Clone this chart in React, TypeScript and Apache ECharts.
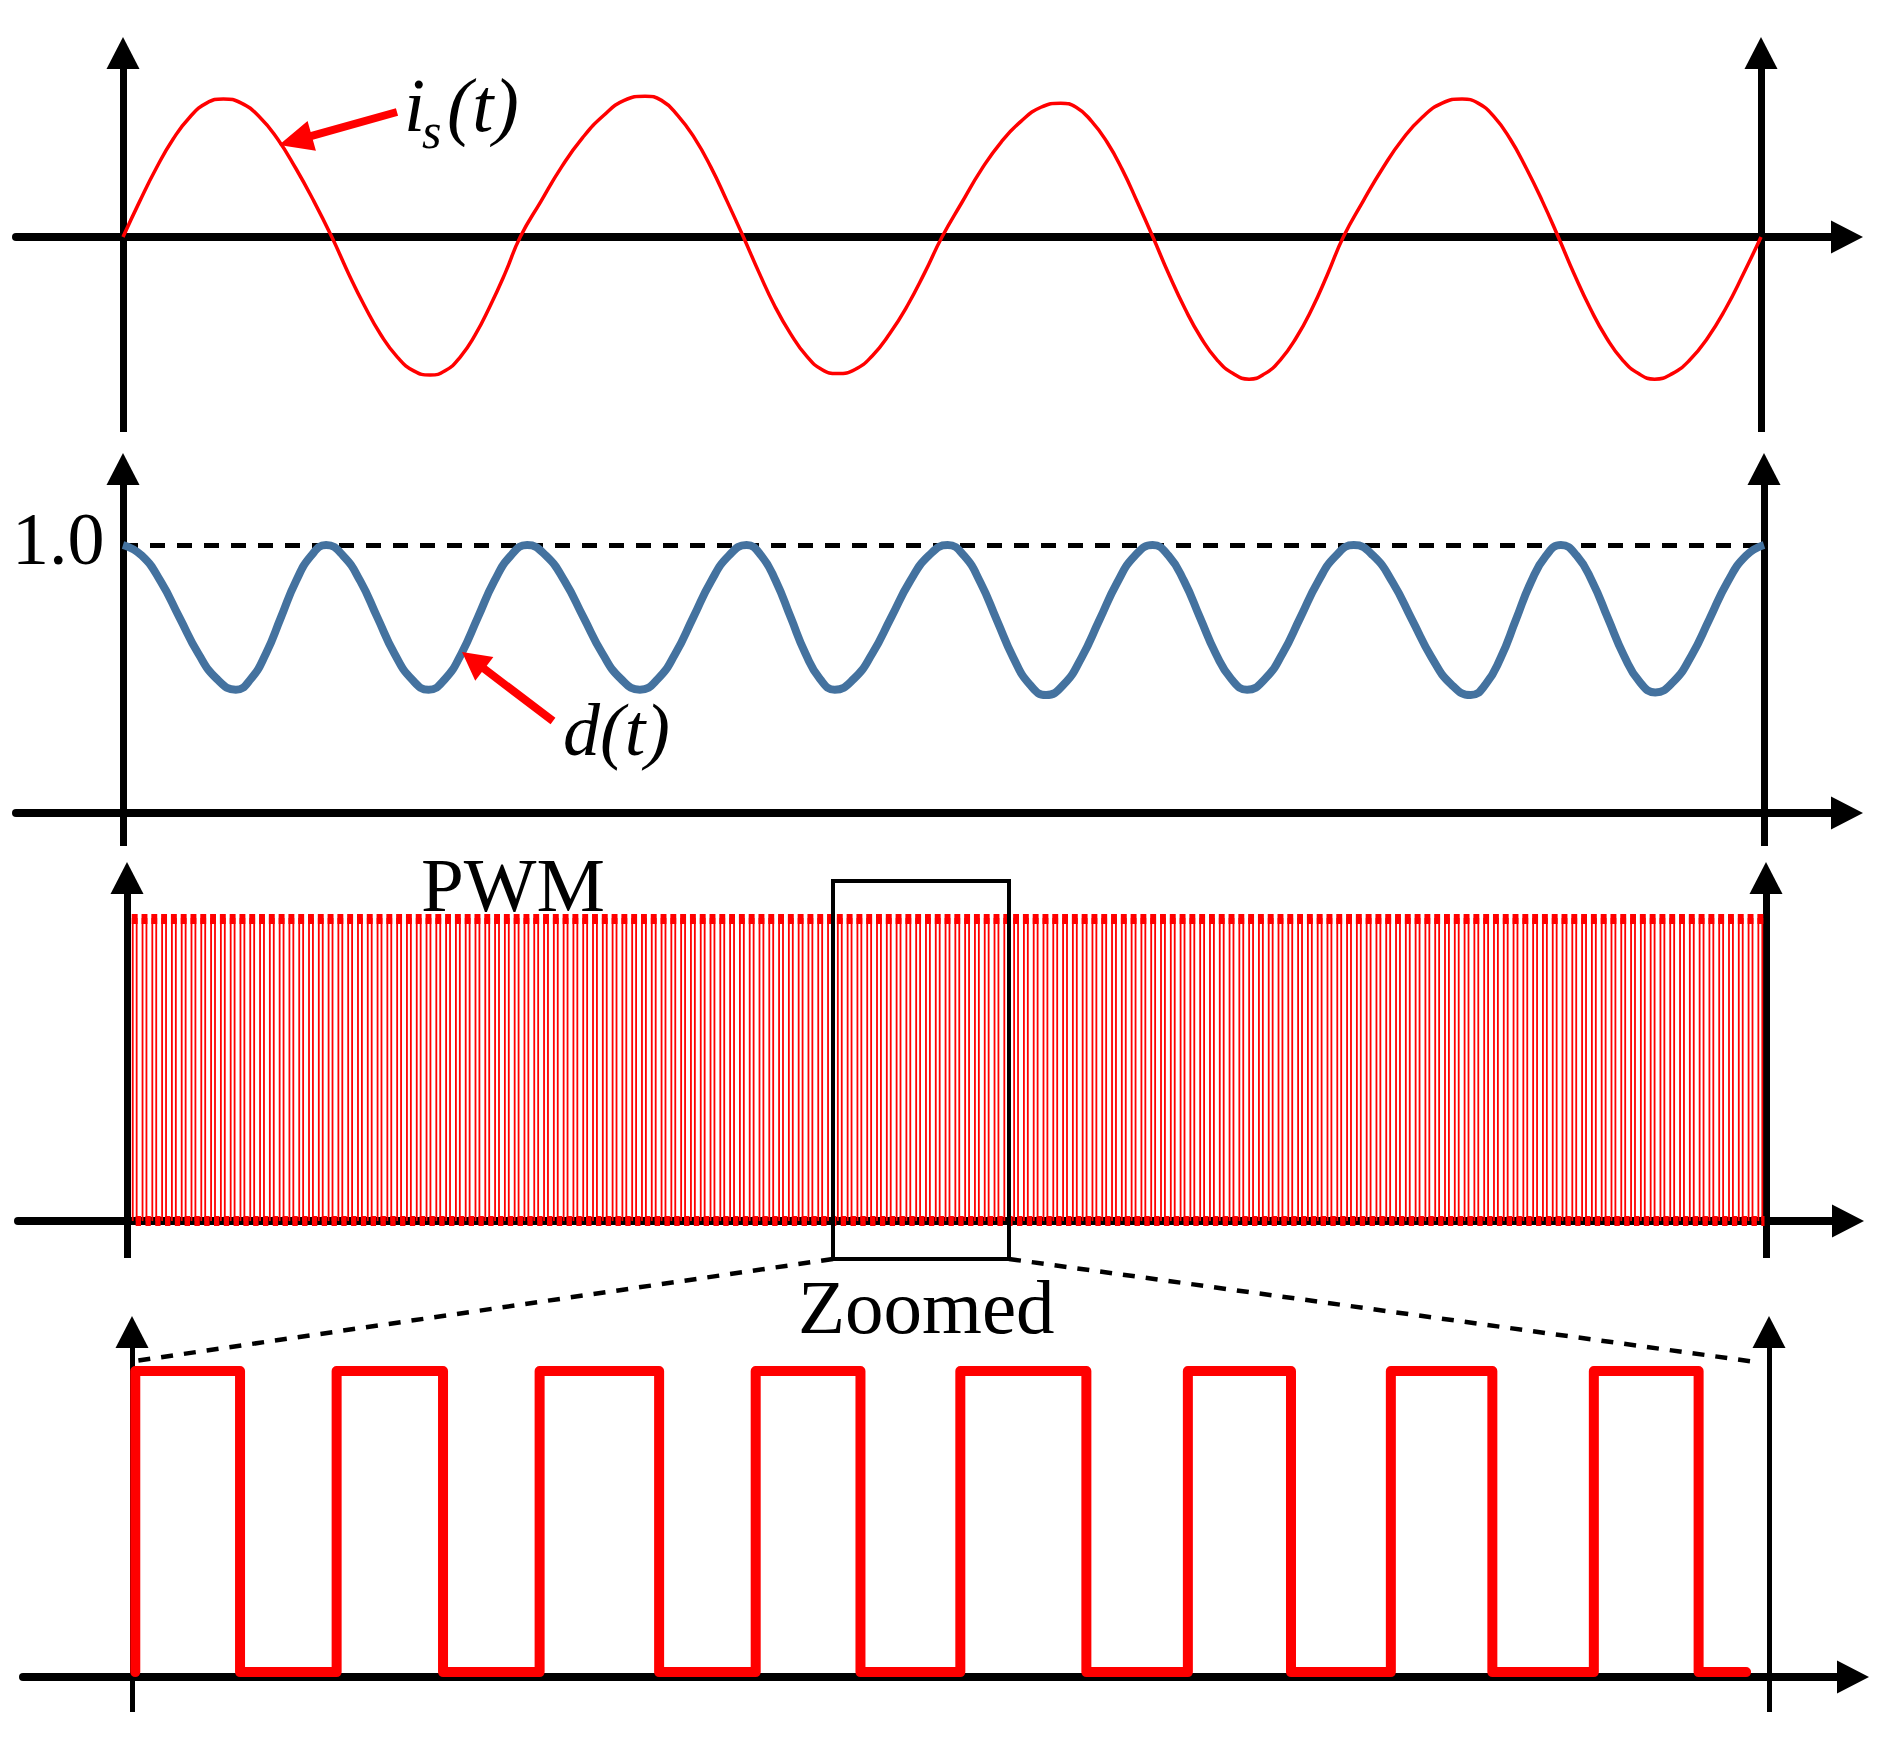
import React, { useEffect, useRef } from "react";
import * as echarts from "echarts";

// ---------------- data ----------------
// Panel 1: source current i_s(t); time in ms (0..80 = between the two vertical axes), value in p.u.
const isTime = [
  0, 0.82, 1.63, 2.45, 3.27, 4.08, 4.9, 5.78, 6.67, 7.55, 8.43, 9.32, 10.2,
  11.0, 11.8, 12.6, 13.4, 14.2, 15.0, 15.73, 16.47, 17.2, 17.93, 18.67, 19.4,
  20.42, 21.43, 22.45, 23.47, 24.48, 25.5, 26.3, 27.1, 27.9, 28.7, 29.5, 30.3,
  31.07, 31.83, 32.6, 33.37, 34.13, 34.9, 35.75, 36.6, 37.45, 38.3, 39.15, 40.0,
  40.97, 41.93, 42.9, 43.87, 44.83, 45.8, 46.55, 47.3, 48.05, 48.8, 49.55, 50.3,
  51.08, 51.87, 52.65, 53.43, 54.22, 55.0, 55.77, 56.53, 57.3, 58.07, 58.83, 59.6,
  60.57, 61.53, 62.5, 63.47, 64.43, 65.4, 66.18, 66.97, 67.75, 68.53, 69.32, 70.1,
  70.88, 71.67, 72.45, 73.23, 74.02, 74.8, 75.67, 76.53, 77.4, 78.27, 79.13, 80.0,
];
const isValue = [
  0, 0.26, 0.5, 0.71, 0.87, 0.97, 1.0, 0.97, 0.87, 0.71, 0.5, 0.26, 0,
  -0.26, -0.5, -0.71, -0.87, -0.97, -1.0, -0.97, -0.87, -0.71, -0.5, -0.26, 0,
  0.26, 0.51, 0.72, 0.88, 0.99, 1.02, 0.99, 0.88, 0.72, 0.51, 0.26, 0,
  -0.26, -0.5, -0.7, -0.86, -0.96, -0.99, -0.96, -0.86, -0.7, -0.5, -0.26, 0,
  0.25, 0.49, 0.69, 0.84, 0.94, 0.97, 0.94, 0.84, 0.69, 0.49, 0.25, 0,
  -0.27, -0.52, -0.73, -0.89, -0.99, -1.03, -0.99, -0.89, -0.73, -0.52, -0.27, 0,
  0.26, 0.5, 0.71, 0.87, 0.97, 1.0, 0.97, 0.87, 0.71, 0.5, 0.26, 0,
  -0.27, -0.52, -0.73, -0.89, -0.99, -1.03, -0.99, -0.89, -0.73, -0.52, -0.27, 0,
];

// Panel 2: duty ratio d(t)
const dTime = [
  0, 0.92, 1.83, 2.75, 3.67, 4.58, 5.5, 6.23, 6.97, 7.7, 8.43, 9.17, 9.9,
  10.73, 11.57, 12.4, 13.23, 14.07, 14.9, 15.7, 16.5, 17.3, 18.1, 18.9, 19.7,
  20.62, 21.53, 22.45, 23.37, 24.28, 25.2, 26.07, 26.93, 27.8, 28.67, 29.53, 30.4,
  31.12, 31.83, 32.55, 33.27, 33.98, 34.7, 35.62, 36.53, 37.45, 38.37, 39.28, 40.2,
  41.0, 41.8, 42.6, 43.4, 44.2, 45.0, 45.87, 46.73, 47.6, 48.47, 49.33, 50.2,
  50.97, 51.73, 52.5, 53.27, 54.03, 54.8, 55.67, 56.53, 57.4, 58.27, 59.13, 60.0,
  60.95, 61.9, 62.85, 63.8, 64.75, 65.7, 66.43, 67.17, 67.9, 68.63, 69.37, 70.1,
  70.87, 71.63, 72.4, 73.17, 73.93, 74.7, 75.58, 76.47, 77.35, 78.23, 79.12, 80.0,
];
const dValue = [
  1.0, 0.96, 0.865, 0.73, 0.595, 0.5, 0.46, 0.5, 0.595, 0.73, 0.865, 0.96, 1.0,
  0.96, 0.865, 0.73, 0.595, 0.5, 0.46, 0.5, 0.595, 0.73, 0.865, 0.96, 1.0,
  0.96, 0.865, 0.73, 0.595, 0.5, 0.46, 0.5, 0.595, 0.73, 0.865, 0.96, 1.0,
  0.96, 0.865, 0.73, 0.595, 0.5, 0.46, 0.5, 0.595, 0.73, 0.865, 0.96, 1.0,
  0.96, 0.86, 0.72, 0.58, 0.48, 0.44, 0.48, 0.58, 0.72, 0.86, 0.96, 1.0,
  0.96, 0.865, 0.73, 0.595, 0.5, 0.46, 0.5, 0.595, 0.73, 0.865, 0.96, 1.0,
  0.96, 0.86, 0.72, 0.58, 0.48, 0.44, 0.48, 0.58, 0.72, 0.86, 0.96, 1.0,
  0.96, 0.863, 0.725, 0.588, 0.49, 0.45, 0.49, 0.588, 0.725, 0.863, 0.96, 1.0,
];
const dReference = 1.0;
const dReferenceLabel = "1.0";

// Panel 3: PWM pulse train (≈167 pulses between the axes, read spacing ≈ 0.478 ms)
const pwmFirstRiseMs = 0.28;
const pwmPeriodMs = 0.478;
const pwmDuty = 0.4;
const pwmHigh = 1.0;

// Panel 4: zoomed PWM, horizontal unit 0..100 between the axes
const zoomRise = [0.2, 12.5, 24.9, 38.1, 50.6, 64.5, 76.9, 89.3];
const zoomFall = [6.6, 19.0, 32.2, 44.5, 58.3, 70.8, 83.1, 95.7];
const zoomEnd = 98.6;
const zoomHigh = 1.0;
const zoomLow = 0.016;

const T_END = 80;
const ZOOM_END = 100;

// ---------------- layout (pixels) ----------------
const W = 1888;
const H = 1744;
const ARROW_LEN = 32;
const ARROW_W = 33;
const RED = "#FF0000";
const BLUE = "#44729F";
const SERIF = "'Liberation Serif', 'Times New Roman', serif";

type Panel = {
  axisStartX: number; tipX: number; t0X: number; t1X: number; tMax: number;
  tipY: number; bottomY: number; zeroY: number; unitPx: number; vW: number; hW: number;
};
const panels: Panel[] = [
  { axisStartX: 16, tipX: 1863, t0X: 123, t1X: 1761, tMax: T_END, tipY: 37, bottomY: 432, zeroY: 237, unitPx: 138, vW: 7, hW: 8 },
  { axisStartX: 16, tipX: 1863, t0X: 123, t1X: 1764, tMax: T_END, tipY: 453, bottomY: 846, zeroY: 813, unitPx: 268, vW: 7, hW: 8 },
  { axisStartX: 18, tipX: 1864, t0X: 127, t1X: 1766, tMax: T_END, tipY: 862, bottomY: 1258, zeroY: 1221, unitPx: 302, vW: 7, hW: 8 },
  { axisStartX: 23, tipX: 1869, t0X: 132, t1X: 1769, tMax: ZOOM_END, tipY: 1316, bottomY: 1712, zeroY: 1677, unitPx: 306, vW: 5, hW: 8 },
];

function panelGeom(p: Panel) {
  const left = p.axisStartX;
  const rightEdge = p.tipX - ARROW_LEN / 2;
  const top = p.tipY + ARROW_LEN / 2;
  const ppu = (p.t1X - p.t0X) / p.tMax;
  return {
    grid: { left, top, width: rightEdge - left, height: p.bottomY - top },
    xMin: (left - p.t0X) / ppu,
    xMax: (rightEdge - p.t0X) / ppu,
    yMin: -(p.bottomY - p.zeroY) / p.unitPx,
    yMax: (p.zeroY - top) / p.unitPx,
  };
}

function arrowPoints(tail: number[], tip: number[], headLen: number, headW: number, shaftW: number) {
  const dx = tip[0] - tail[0];
  const dy = tip[1] - tail[1];
  const L = Math.hypot(dx, dy);
  const ux = dx / L, uy = dy / L;
  const nx = -uy, ny = ux;
  const bx = tip[0] - ux * headLen, by = tip[1] - uy * headLen;
  return [
    [tail[0] + (nx * shaftW) / 2, tail[1] + (ny * shaftW) / 2],
    [bx + (nx * shaftW) / 2, by + (ny * shaftW) / 2],
    [bx + (nx * headW) / 2, by + (ny * headW) / 2],
    [tip[0], tip[1]],
    [bx - (nx * headW) / 2, by - (ny * headW) / 2],
    [bx - (nx * shaftW) / 2, by - (ny * shaftW) / 2],
    [tail[0] - (nx * shaftW) / 2, tail[1] - (ny * shaftW) / 2],
  ];
}

function buildOption() {
  const geoms = panels.map(panelGeom);

  const grids = geoms.map((g) => g.grid);
  const xAxes = geoms.map((g, i) => ({
    type: "value",
    gridIndex: i,
    min: g.xMin,
    max: g.xMax,
    axisLine: {
      show: true,
      onZero: true,
      symbol: ["none", "triangle"],
      symbolSize: [ARROW_W, ARROW_LEN],
      lineStyle: { color: "#000", width: panels[i].hW },
    },
    axisTick: { show: false },
    axisLabel: { show: false },
    splitLine: { show: false },
  }));
  const yAxes = geoms.map((g, i) => ({
    type: "value",
    gridIndex: i,
    min: g.yMin,
    max: g.yMax,
    show: false,
    axisLine: { show: false, onZero: false },
    splitLine: { show: false },
  }));

  const series: any[] = [];
  geoms.forEach((g, i) => {
    const p = panels[i];
    const markData: any[] = [
      [{ coord: [0, g.yMin] }, { coord: [0, g.yMax] }],
      [{ coord: [p.tMax, g.yMin] }, { coord: [p.tMax, g.yMax] }],
    ];
    series.push({
      type: "line",
      xAxisIndex: i,
      yAxisIndex: i,
      data: [[0, 0]],
      showSymbol: false,
      lineStyle: { opacity: 0 },
      silent: true,
      z: 1,
      markLine: {
        silent: true,
        z: 1,
        symbol: ["none", "triangle"],
        symbolSize: [ARROW_W, ARROW_LEN],
        label: { show: false },
        emphasis: { disabled: true },
        lineStyle: { color: "#000", width: p.vW, type: "solid" },
        data: markData,
      },
    });
  });

  // 1.0 dashed reference in panel 2
  series.push({
    type: "line",
    xAxisIndex: 1,
    yAxisIndex: 1,
    data: [[0, 0]],
    showSymbol: false,
    lineStyle: { opacity: 0 },
    silent: true,
    z: 1,
    markLine: {
      silent: true,
      z: 2,
      symbol: ["none", "none"],
      label: { show: false },
      emphasis: { disabled: true },
      lineStyle: { color: "#000", width: 5, type: [15, 12] },
      data: [[{ coord: [0, dReference] }, { coord: [T_END, dReference] }]],
    },
  });

  // i_s(t)
  series.push({
    type: "line",
    xAxisIndex: 0,
    yAxisIndex: 0,
    data: isTime.map((t, k) => [t, isValue[k]]),
    smooth: 0.5,
    showSymbol: false,
    silent: true,
    z: 5,
    lineStyle: { color: RED, width: 3.5 },
  });

  // d(t)
  series.push({
    type: "line",
    xAxisIndex: 1,
    yAxisIndex: 1,
    data: dTime.map((t, k) => [t, dValue[k]]),
    smooth: 0.5,
    showSymbol: false,
    silent: true,
    z: 5,
    lineStyle: { color: BLUE, width: 8 },
  });

  // PWM pulses
  const pwmPulses: number[][] = [];
  for (let r = pwmFirstRiseMs; r < T_END; r += pwmPeriodMs) {
    const f = Math.min(r + pwmDuty * pwmPeriodMs, T_END);
    const n = Math.min(r + pwmPeriodMs, T_END);
    pwmPulses.push([r, f, n, pwmHigh]);
  }
  series.push({
    type: "custom",
    xAxisIndex: 2,
    yAxisIndex: 2,
    data: pwmPulses,
    encode: { x: [0, 1, 2], y: 3 },
    silent: true,
    z: 5,
    renderItem: (params: any, api: any) => {
      const r = api.value(0), f = api.value(1), n = api.value(2), hi = api.value(3);
      const pR = api.coord([r, hi]);
      const pF = api.coord([f, hi]);
      const qR = api.coord([r, 0]);
      const qF = api.coord([f, 0]);
      const qN = api.coord([n, 0]);
      return {
        type: "group",
        children: [
          {
            type: "polyline",
            shape: { points: [qR, pR, pF, qF] },
            style: { stroke: RED, lineWidth: 1.8, fill: null },
          },
          {
            type: "rect",
            shape: { x: pR[0] - 1, y: pR[1] - 5, width: pF[0] - pR[0] + 2, height: 10 },
            style: { fill: RED },
          },
          {
            type: "rect",
            shape: { x: qF[0] - 1, y: qF[1] - 5, width: Math.max(qN[0] - qF[0] - 0.5, 0), height: 10 },
            style: { fill: RED },
          },
        ],
      };
    },
  });

  // zoomed PWM
  const zoomPts: number[][] = [];
  zoomRise.forEach((r, k) => {
    zoomPts.push([r, zoomLow], [r, zoomHigh], [zoomFall[k], zoomHigh], [zoomFall[k], zoomLow]);
  });
  zoomPts.push([zoomEnd, zoomLow]);
  series.push({
    type: "line",
    xAxisIndex: 3,
    yAxisIndex: 3,
    data: zoomPts,
    showSymbol: false,
    silent: true,
    z: 5,
    lineStyle: { color: RED, width: 10, join: "round", cap: "round" },
  });

  // ---------- annotations ----------
  const txt = (text: string, x: number, baseline: number, size: number, italic = false) => ({
    type: "text",
    x,
    y: baseline - 0.34 * size,
    z: 20,
    silent: true,
    style: {
      text,
      fill: "#000",
      fontSize: size,
      fontFamily: SERIF,
      fontStyle: italic ? "italic" : "normal",
      align: "left",
      verticalAlign: "middle",
    },
  });

  const graphic: any[] = [
    txt("i", 404, 131, 76, true),
    txt("s", 422, 148, 50, true),
    txt("(t)", 447, 131, 76, true),
    txt(dReferenceLabel, 12, 564, 74),
    txt("d(t)", 563, 755, 74, true),
    txt("PWM", 421, 911, 77),
    txt("Zoomed", 798, 1333, 77),
    {
      type: "polygon",
      z: 20,
      silent: true,
      shape: { points: arrowPoints([397, 112], [279, 145], 34, 31, 8) },
      style: { fill: RED },
    },
    {
      type: "polygon",
      z: 20,
      silent: true,
      shape: { points: arrowPoints([553, 721], [462, 652], 28, 30, 8) },
      style: { fill: RED },
    },
    {
      type: "rect",
      z: 20,
      silent: true,
      shape: { x: 833, y: 881, width: 176, height: 378 },
      style: { fill: null, stroke: "#000", lineWidth: 4 },
    },
    {
      type: "line",
      z: 20,
      silent: true,
      shape: { x1: 833, y1: 1259, x2: 135, y2: 1361 },
      style: { stroke: "#000", lineWidth: 4.5, lineDash: [12, 11] },
    },
    {
      type: "line",
      z: 20,
      silent: true,
      shape: { x1: 1009, y1: 1259, x2: 1756, y2: 1362 },
      style: { stroke: "#000", lineWidth: 4.5, lineDash: [12, 11] },
    },
  ];

  return {
    animation: false,
    backgroundColor: "#ffffff",
    grid: grids,
    xAxis: xAxes,
    yAxis: yAxes,
    series,
    graphic,
  };
}

export default function App() {
  const ref = useRef<HTMLDivElement>(null);
  useEffect(() => {
    document.body.style.margin = "0";
    if (!ref.current) return;
    const chart = echarts.init(ref.current, undefined, { renderer: "svg", width: W, height: H });
    chart.setOption(buildOption() as any);
    return () => {
      chart.dispose();
    };
  }, []);
  return <div ref={ref} style={{ width: W, height: H }} />;
}
